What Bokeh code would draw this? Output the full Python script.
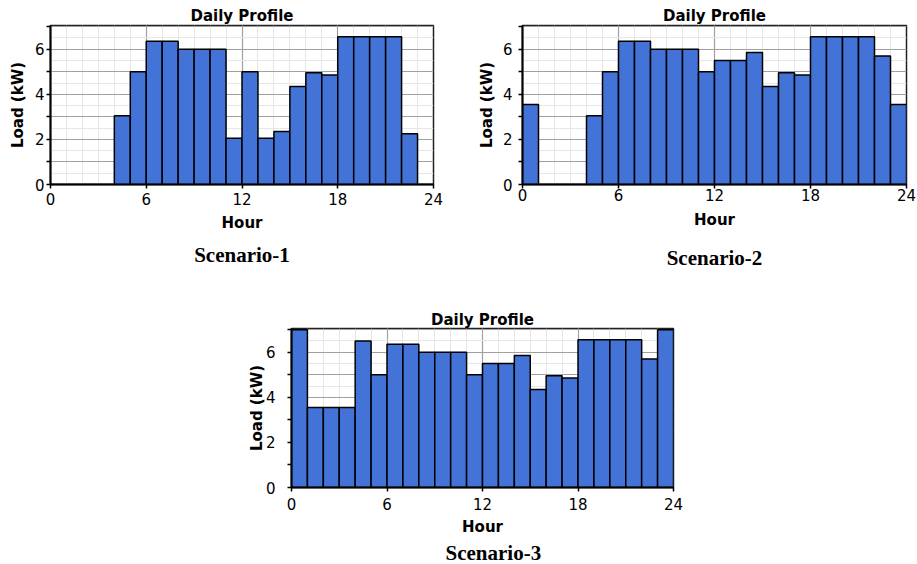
from bokeh.plotting import figure
from bokeh.models import FixedTicker, Title, Spacer, ColumnDataSource, Range1d
from bokeh.layouts import row, column
from bokeh.embed import file_html
from bokeh.resources import INLINE

hours = list(range(24))
scenario1 = [0, 0, 0, 0, 3.05, 5.0, 6.35, 6.35, 6.0, 6.0, 6.0, 2.05,
             5.0, 2.05, 2.35, 4.35, 4.95, 4.85, 6.55, 6.55, 6.55, 6.55, 2.25, 0]
scenario2 = [3.55, 0, 0, 0, 3.05, 5.0, 6.35, 6.35, 6.0, 6.0, 6.0, 5.0,
             5.5, 5.5, 5.85, 4.35, 4.95, 4.85, 6.55, 6.55, 6.55, 6.55, 5.7, 3.55]
scenario3 = [7.0, 3.55, 3.55, 3.55, 6.5, 5.0, 6.35, 6.35, 6.0, 6.0, 6.0, 5.0,
             5.5, 5.5, 5.85, 4.35, 4.95, 4.85, 6.55, 6.55, 6.55, 6.55, 5.7, 7.0]
x_ticks = [0, 6, 12, 18, 24]
y_ticks = [0, 2, 4, 6]
y_minor_ticks = [1, 3, 5, 7]
chart_title = "Daily Profile"
x_label = "Hour"
y_label = "Load (kW)"
captions = ["Scenario-1", "Scenario-2", "Scenario-3"]

SANS = "DejaVu Sans"
SERIF = "Liberation Serif"
BLUE = "#4473d8"


def make_chart(values, caption, width, height, bl, br, bt, bb, title_standoff,
               tick_standoff, ylabel_standoff, xtick_standoff, xlabel_standoff,
               cap_standoff, cap_align="center", cap_offset=0):
    p = figure(width=width, height=height, output_backend="svg", toolbar_location=None,
               x_range=Range1d(0, 24), y_range=Range1d(0, 7.05),
               min_border_left=bl, min_border_right=br, min_border_top=bt, min_border_bottom=bb,
               background_fill_color="white", border_fill_color="white",
               outline_line_color="#222222", outline_line_width=1.5)
    p.title.text = chart_title
    p.title.align = "center"
    p.title.text_font = SANS
    p.title.text_font_size = "15px"
    p.title.text_font_style = "bold"
    p.title.text_color = "black"
    p.title.standoff = title_standoff

    src = ColumnDataSource(dict(x=[h + 0.5 for h in hours], top=values))
    p.vbar(x="x", top="top", bottom=0, width=1, source=src,
           fill_color=BLUE, line_color="black", line_width=1.5)

    # grids
    p.xgrid.ticker = FixedTicker(ticks=[6, 12, 18], minor_ticks=list(range(1, 24)))
    p.xgrid.grid_line_color = "#a0a0a0"
    p.xgrid.grid_line_width = 1.2
    p.xgrid.minor_grid_line_color = "#e6e6e6"
    p.xgrid.minor_grid_line_width = 1
    p.ygrid.ticker = FixedTicker(ticks=[1, 2, 3, 4, 5, 6, 7],
                                 minor_ticks=[0.5, 1.5, 2.5, 3.5, 4.5, 5.5, 6.5])
    p.ygrid.grid_line_color = "#a0a0a0"
    p.ygrid.grid_line_width = 1.2
    p.ygrid.minor_grid_line_color = "#e6e6e6"
    p.ygrid.minor_grid_line_width = 1

    # axes
    p.xaxis.ticker = FixedTicker(ticks=x_ticks, minor_ticks=[])
    p.yaxis.ticker = FixedTicker(ticks=y_ticks, minor_ticks=y_minor_ticks)
    for ax in (p.xaxis[0], p.yaxis[0]):
        ax.axis_line_color = "black"
        ax.axis_line_width = 2
        ax.major_tick_line_color = "black"
        ax.major_tick_line_width = 1.5
        ax.major_tick_in = 0
        ax.major_tick_out = 4
        ax.minor_tick_line_color = "black"
        ax.minor_tick_line_width = 1.5
        ax.minor_tick_in = 0
        ax.minor_tick_out = 4
        ax.major_label_text_font = SANS
        ax.major_label_text_font_size = "15px"
        ax.major_label_text_color = "black"
        ax.axis_label_text_font = SANS
        ax.axis_label_text_font_size = "15px"
        ax.axis_label_text_font_style = "bold"
        ax.axis_label_text_color = "black"
    p.xaxis.axis_label = x_label
    p.yaxis.axis_label = y_label
    p.yaxis.major_label_standoff = tick_standoff
    p.yaxis.axis_label_standoff = ylabel_standoff
    p.xaxis.major_label_standoff = xtick_standoff
    p.xaxis.axis_label_standoff = xlabel_standoff

    cap = Title(text=caption, align=cap_align, offset=cap_offset, text_font=SERIF,
                text_font_size="21px", text_font_style="bold", text_color="black",
                standoff=cap_standoff)
    p.add_layout(cap, "below")
    return p


# width, height, borders (l, r, t, b), title standoff, y tick / label standoffs,
# x tick / label standoffs, caption standoff
f1 = make_chart(scenario1, captions[0], 460, 308, 50, 27, 25, 122, 2, 2, 5, 4, 6, 13)
f2 = make_chart(scenario2, captions[1], 457, 308, 62, 11, 23, 124, 1, 6, 4, 0, 7, 25)
f3 = make_chart(scenario3, captions[2], 453, 256, 59, 12, 20, 75, 0, 12, -3, 6, 5, 0,
                cap_align="left", cap_offset=154)

layout = column(row(f1, f2), row(Spacer(width=232, height=256), f3))
open("out.html", "w").write(file_html(layout, INLINE))
